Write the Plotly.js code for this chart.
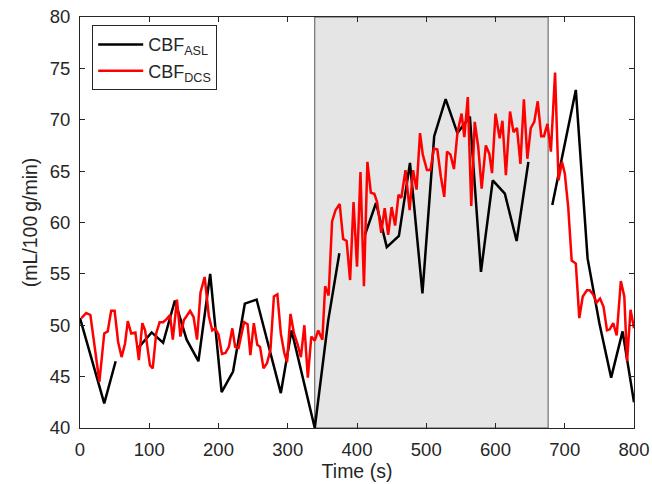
<!DOCTYPE html>
<html><head><meta charset="utf-8">
<script src="https://cdn.plot.ly/plotly-3.0.1.min.js"></script>
<style>html,body{margin:0;padding:0;background:#fff}#chart{width:652px;height:484px}</style>
</head><body><div id="chart"></div>
<script>
// CBF_ASL (black), null = gap
const aslTime = [0,35,51.5,68,84,103.5,120,137,154,171,188,204.5,221,238,255,290,305.5,339,358.5,374.5,392,411.5,427.5,443,460.5,476.5,494.5,511.5,528,545,563,579,596,613.5,630.5,647.5,665,682,716,733,750,767,783.5,800];
const aslValue = [50.7,42.4,46.5,null,47.8,49.3,48.3,52.4,48.6,46.5,55.0,43.5,45.5,52.1,52.5,43.4,49.5,40.0,50.5,57.0,null,58.8,61.9,57.6,58.7,65.8,53.1,68.4,72.0,68.7,70.3,55.2,64.1,62.8,58.2,65.9,null,61.7,72.9,56.5,50.2,44.9,49.4,42.5];
// CBF_DCS (red)
const dcsTime = [2,9,15,28,35,40,45,50,55,60,65,69,74,80,85,90,94,101,105,110,115,120,125,130,134,140,145,150,155,159,164,169,174,180,186,191,195,200,205,210,215,220,224,229,237,242,246,251,256,260,265,270,275,280,285,290,295,299,304,309,314,319,324,329,334,339,344,350,354,359,364,369,375,380,385,390,395,400,405,410,415,420,425,429,435,440,445,450,455,460,464,470,476,481,486,491,495,501,506,511,516,521,526,530,535,540,545,551,555,560,565,570,575,580,586,591,595,600,606,610,615,621,626,631,636,641,646,651,656,661,666,670,675,680,686,691,696,700,705,710,716,721,726,732,736,741,746,751,756,761,765,770,775,781,786,790,795,800];
const dcsValue = [50.7,51.2,51.0,44.5,49.2,49.4,51.4,51.4,48.4,46.9,48.2,50.4,49.2,49.3,46.6,50.2,49.5,46.1,45.8,49.2,50.3,50.3,50.6,51.0,48.6,52.5,48.9,50.5,51.0,51.4,50.8,48.6,53.2,54.7,50.9,49.5,49.7,49.1,47.2,47.3,47.9,49.7,47.9,47.8,50.3,50.1,47.1,50.2,48.1,47.9,45.8,46.3,47.6,52.8,53.0,49.2,47.3,46.4,51.1,49.2,48.2,46.9,50.0,44.9,48.9,48.5,49.5,48.6,53.8,52.9,60.1,61.2,61.8,58.4,58.2,54.4,62.0,55.7,64.9,53.8,65.9,62.9,62.8,62.0,59.0,61.4,58.8,61.5,59.7,62.7,62.4,65.1,61.2,65.1,63.2,68.7,66.6,65.1,65.1,67.2,67.1,64.5,62.5,66.9,66.6,65.2,68.7,70.6,68.3,72.2,61.6,69.8,67.4,63.3,67.5,66.7,64.8,70.6,68.2,69.9,64.6,70.8,68.8,69.2,65.7,72.0,66.2,69.2,69.8,71.8,68.4,68.4,69.6,66.9,74.6,64.1,65.9,64.8,61.5,56.3,56.0,50.7,52.8,53.4,53.4,53.0,52.2,52.6,51.8,49.5,49.6,50.2,49.0,54.3,52.8,46.5,51.5,49.7];
const shadedInterval = [339, 676];
const xTicks = [0,100,200,300,400,500,600,700,800];
const yTicks = [40,45,50,55,60,65,70,75,80];

const font = {family: 'Liberation Sans, Arial, sans-serif', color: '#262626'};
const axisCommon = {
  showline: true, linecolor: '#262626', linewidth: 1, mirror: 'ticks',
  ticks: 'inside', ticklen: 5, tickcolor: '#262626', tickwidth: 1,
  showgrid: false, zeroline: false, ticklabelstandoff: 5,
  tickfont: Object.assign({size: 18.5}, font)
};
const traces = [
  {x: aslTime, y: aslValue, type: 'scatter', mode: 'lines', name: 'CBF<sub>ASL</sub>',
   line: {color: '#000000', width: 2.5}, connectgaps: false},
  {x: dcsTime, y: dcsValue, type: 'scatter', mode: 'lines', name: 'CBF<sub>DCS</sub>',
   line: {color: '#ff0000', width: 2.5}}
];
const layout = {
  width: 652, height: 484,
  margin: {l: 80, r: 18, t: 17, b: 56},
  paper_bgcolor: '#fff', plot_bgcolor: '#fff',
  showlegend: true,
  legend: {x: 0.022, y: 0.98, xanchor: 'left', yanchor: 'top',
    bgcolor: '#fff', bordercolor: '#262626', borderwidth: 1,
    font: Object.assign({size: 18}, font), itemwidth: 45, tracegroupgap: 2},
  xaxis: Object.assign({}, axisCommon, {range: [0, 800], tickvals: xTicks,
    title: {text: 'Time (s)', font: Object.assign({size: 19.5}, font), standoff: 4}}),
  yaxis: Object.assign({}, axisCommon, {range: [40, 80], tickvals: yTicks,
    title: {text: '(mL/100\u2009g/min)', font: Object.assign({size: 19.5}, font), standoff: 6}}),
  shapes: [{type: 'rect', xref: 'x', yref: 'y', x0: shadedInterval[0], x1: shadedInterval[1],
    y0: 40, y1: 80, fillcolor: '#e5e5e5', line: {color: '#555', width: 1}, layer: 'below'}]
};
Plotly.newPlot('chart', traces, layout, {displayModeBar: false, staticPlot: true});
</script></body></html>
